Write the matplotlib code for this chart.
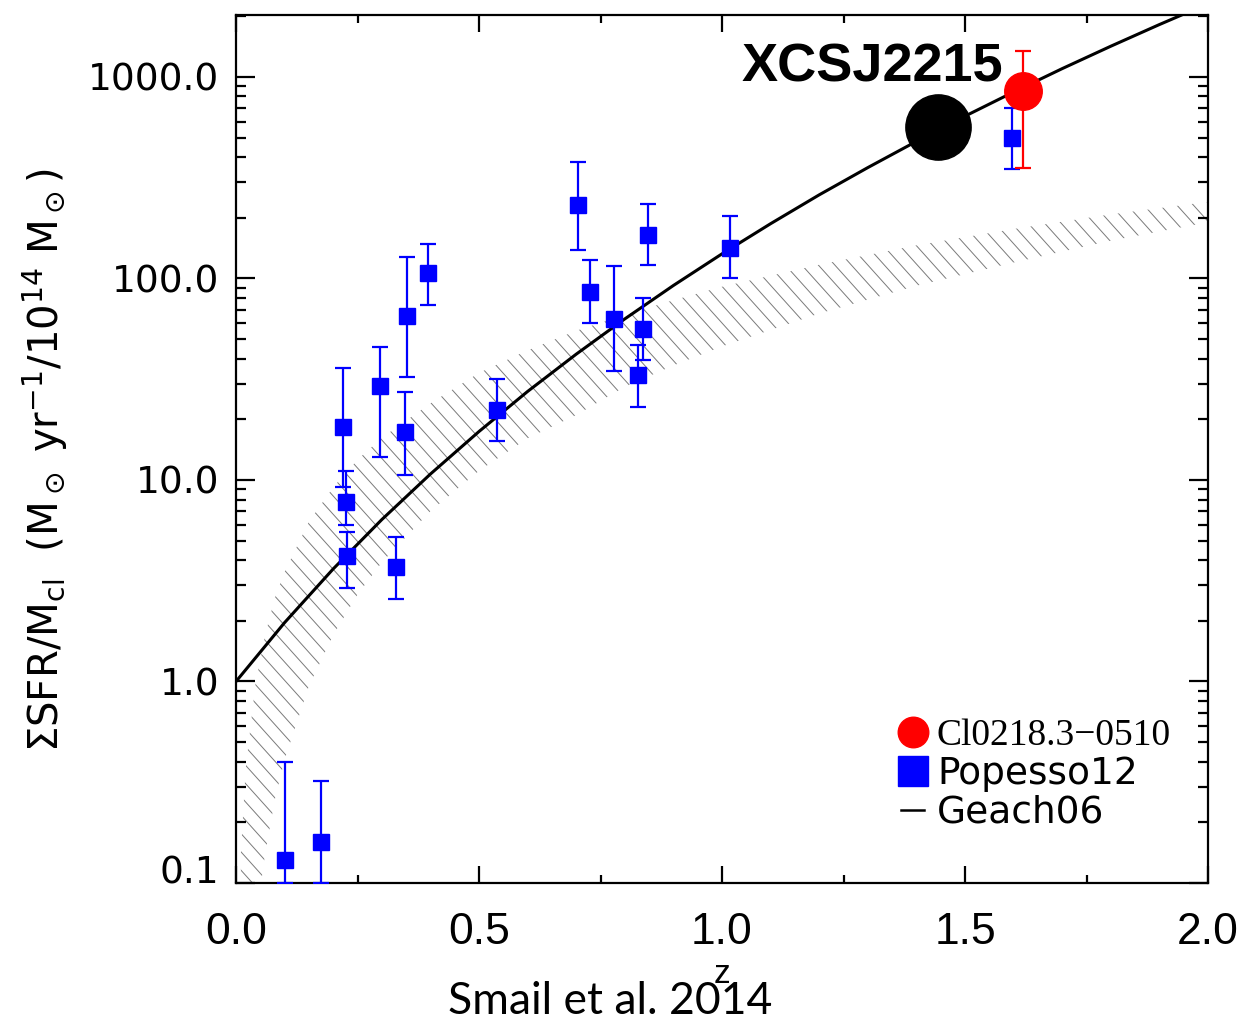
import numpy as np
import matplotlib
matplotlib.use('Agg')
import matplotlib.pyplot as plt
from matplotlib.lines import Line2D
from matplotlib.collections import LineCollection
from matplotlib.ticker import FixedLocator, LogLocator, MultipleLocator, NullFormatter
import matplotlib.transforms as mtransforms

# Popesso12 clusters (value, lower/upper end of error bar)
pop_z = [0.100, 0.175, 0.220, 0.226, 0.228, 0.296, 0.329, 0.348, 0.352, 0.395,
         0.537, 0.704, 0.729, 0.778, 0.827, 0.837, 0.848, 1.016, 1.597]
pop_sfr = [0.13, 0.16, 18.3, 7.8, 4.2, 29.2, 3.7, 17.3, 64.8, 106,
           22.2, 232, 86, 63, 33, 56, 165, 142, 499]
pop_lo = [0.1, 0.1, 9.2, 6.0, 2.9, 13.0, 2.58, 10.6, 32.3, 73.5,
          15.6, 138, 59.8, 34.6, 23.0, 39.3, 116, 100, 350]
pop_hi = [0.40, 0.32, 35.8, 11.1, 5.5, 45.5, 5.2, 27.3, 128.5, 149,
          31.6, 379, 123, 115, 46.6, 79.6, 235, 205, 703]

# Cl0218.3-0510
cl_z = [1.619]
cl_sfr = [853]
cl_lo = [355]
cl_hi = [1345]

# XCSJ2215
xcs_z = [1.444]
xcs_sfr = [566]

# Geach06 trend
geach_z = [0.0, 0.1, 0.2, 0.3, 0.4, 0.5, 0.6, 0.7, 0.8, 0.9, 1.0,
           1.1, 1.2, 1.3, 1.4, 1.5, 1.6, 1.7, 1.8, 1.9, 2.0]
geach_sfr = [1.0, 1.96, 3.62, 6.36, 10.7, 17.4, 27.5, 42.1, 63.0, 92.3, 132.5,
             187, 260, 355, 479, 639, 842, 1100, 1421, 1820, 2310]

# hatched band
band_z = [0.01, 0.02, 0.04, 0.06, 0.08, 0.10, 0.15, 0.20, 0.25, 0.30, 0.40,
          0.50, 0.60, 0.70, 0.80, 0.90, 1.00, 1.20, 1.40, 1.60, 1.80, 2.00]
band_lo = [0.003, 0.016, 0.063, 0.14, 0.26, 0.41, 0.95, 1.7, 2.7, 3.9, 7.0,
           11.1, 16.1, 21.0, 29, 37, 46, 67, 92, 120, 154, 190]
band_hi = [0.14, 0.37, 0.97, 1.7, 2.6, 3.5, 6.2, 9.2, 12.6, 16.2, 24,
           34, 44, 55, 66, 78, 91, 117, 146, 176, 208, 240]

fig = plt.figure(figsize=(12.4, 10.21), dpi=100)
ax = fig.add_axes([236/1240, 1-883/1021, 972/1240, 868/1021])

ax.set_yscale('log')
ax.set_xlim(0, 2.0)
ax.set_ylim(0.1, 2030)

# band outline (invisible) used as clip path for hand-made hatching
band = ax.fill_between(band_z, band_lo, band_hi, facecolor='none', linewidth=0, zorder=1)
ax_w, ax_h = 972.0, 868.0
step, slope = 16.5, 0.9           # px between lines, dx/dy of each line
segs = []
for x0 in np.arange(-ax_h * slope, ax_w, step):
    segs.append([(x0 / ax_w, 1.0), ((x0 + ax_h * slope) / ax_w, 0.0)])
hatch = LineCollection(segs, colors='#7a7a7a', linewidths=0.7,
                       transform=ax.transAxes, zorder=1)
ax.add_collection(hatch)
hatch.set_clip_path(band.get_paths()[0], band.get_transform())

ax.plot(geach_z, geach_sfr, color='black', lw=2.2, zorder=2)

ax.errorbar(pop_z, pop_sfr,
            yerr=[np.array(pop_sfr) - np.array(pop_lo), np.array(pop_hi) - np.array(pop_sfr)],
            fmt='s', color='blue', markersize=11, capsize=5.5, elinewidth=1.6,
            capthick=1.6, zorder=3)
ax.errorbar(cl_z, cl_sfr,
            yerr=[np.array(cl_sfr) - np.array(cl_lo), np.array(cl_hi) - np.array(cl_sfr)],
            fmt='o', color='red', markersize=27, capsize=5.5, elinewidth=1.6,
            capthick=1.6, zorder=4)
ax.plot(xcs_z, xcs_sfr, 'o', color='black', markersize=47, zorder=4)
ax.text(1.578, 1109, 'XCSJ2215', fontsize=39, fontweight='bold',
        family='Liberation Sans', ha='right', va='center')

ax.xaxis.set_major_locator(MultipleLocator(0.5))
ax.xaxis.set_minor_locator(MultipleLocator(0.25))
ax.yaxis.set_major_locator(FixedLocator([0.1, 1, 10, 100, 1000]))
ax.yaxis.set_minor_locator(LogLocator(base=10, subs=np.arange(2, 10), numticks=20))
ax.yaxis.set_minor_formatter(NullFormatter())
ax.set_yticklabels(['0.1', '1.0', '10.0', '100.0', '1000.0'])
ax.set_xticks([0.0, 0.5, 1.0, 1.5, 2.0])
ax.set_xticklabels(['0.0', '0.5', '1.0', '1.5', '2.0'])

ax.tick_params(which='both', direction='in', top=True, right=True, width=1.6, colors='black')
ax.tick_params(axis='y', which='major', length=14, labelsize=27, pad=12)
ax.tick_params(axis='y', which='minor', length=7)
ax.tick_params(axis='x', which='major', length=12, labelsize=32, pad=21)
ax.tick_params(axis='x', which='minor', length=6)
for lab in ax.get_xticklabels():
    lab.set_family('Liberation Sans')
for sp in ax.spines.values():
    sp.set_linewidth(1.6)

# nudge the bottom label up, like the original
off = mtransforms.ScaledTranslation(0, 14/100, fig.dpi_scale_trans)
t0 = ax.yaxis.get_major_ticks()[0]
t0.label1.set_transform(t0.label1.get_transform() + off)

ax.set_xlabel('z', fontsize=24, family='Liberation Sans', labelpad=4)
fig.text(45/1240, 1-460/1021,
         r'$\Sigma$SFR/M$_{\rm cl}$  (M$_\odot$ yr$^{-1}$/10$^{14}$ M$_\odot$)',
         rotation=90, ha='center', va='center', fontsize=29)
fig.text(610/1240, 1-1001/1021, 'Smail et al. 2014', fontsize=32, family='Lato',
         ha='center', va='center')

handles = [Line2D([], [], marker='o', color='red', ls='none', markersize=22),
           Line2D([], [], marker='s', color='blue', ls='none', markersize=21),
           Line2D([], [], color='black', lw=1.8)]
leg = ax.legend(handles, ['Cl0218.3\u22120510', 'Popesso12', 'Geach06'],
                loc='lower right', bbox_to_anchor=(0.962, 0.06), frameon=False,
                fontsize=27, handlelength=0.6, handletextpad=0.35,
                labelspacing=0.08, borderaxespad=0, borderpad=0)
leg.get_texts()[0].set_family('Liberation Serif')

fig.savefig('out.png', dpi=100)
